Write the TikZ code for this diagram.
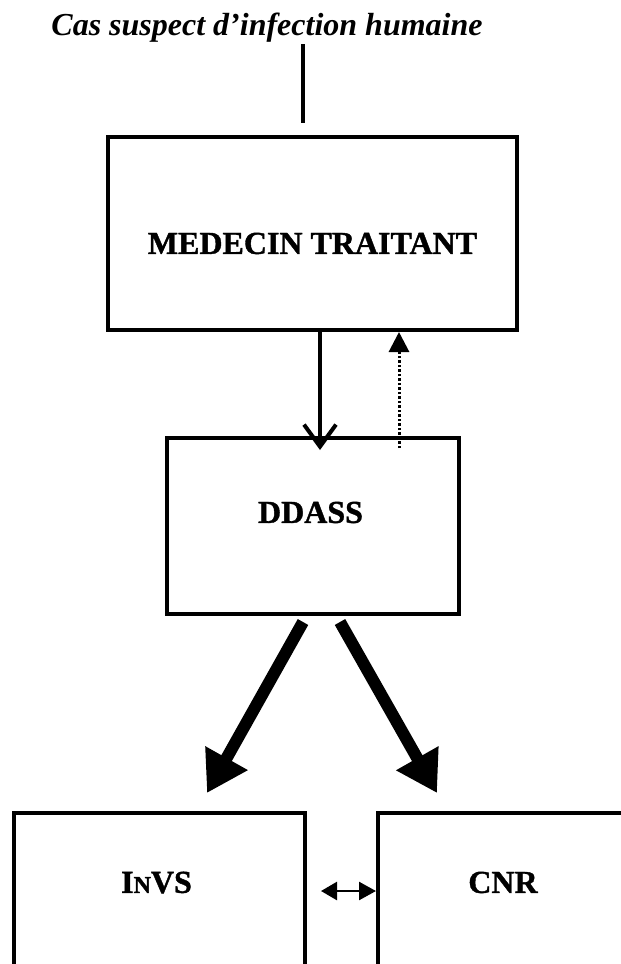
\documentclass[tikz,border=0pt]{standalone}
\usepackage{fontspec}
\setmainfont{Liberation Serif}
\newfontfamily\boxfont{Liberation Serif Bold}[FakeBold=1.2]
\usetikzlibrary{arrows.meta}
\begin{document}
\begin{tikzpicture}[x=1pt,y=-1pt,
  box/.style={draw, line width=4pt, inner sep=0pt},
  lbl/.style={font=\boxfont\fontsize{32}{32}\selectfont, inner sep=0pt},
  thick arrow/.style={line width=12pt, -{Triangle[length=40pt,width=46pt]}}]
\useasboundingbox (0,0) rectangle (621,964);
\clip (0,0) rectangle (621,964);
% title
\node[font=\fontsize{32}{32}\selectfont\bfseries\itshape, anchor=base, inner sep=0pt] (title) at (267,35) {Cas suspect d’infection humaine};
\coordinate (t0) at (303,44);
\coordinate (t1) at (303,123);
\draw[line width=4pt] (t0) -- (t1);
% boxes
\node[box, minimum width=409pt, minimum height=193pt] (med) at (312.5,233.5) {};
\node[lbl] (medtxt) at (312.5,243.5) {MEDECIN TRAITANT};
\node[box, minimum width=292pt, minimum height=176pt] (dd) at (313,526) {};
\node[lbl] (ddtxt) at (310.5,512.5) {DDASS};
\node[box, minimum width=291pt, minimum height=190pt] (invs) at (159.5,908) {};
\node[lbl] (invstxt) at (156.5,882.5) {I{\fontsize{24}{24}\selectfont N}VS};
\node[box, minimum width=291pt, minimum height=190pt] (cnr) at (523.5,908) {};
\node[lbl] (cnrtxt) at (503,882.5) {CNR};
% med -> ddass
\coordinate (a0) at ([xshift=7.5pt]med.south);
\coordinate (a1) at (320,450);
\draw[line width=4pt, -{Straight Barb[length=22pt,width=32pt]}] (a0) -- (a1);
% ddass -> med (dotted)
\coordinate (b0) at (399,448);
\coordinate (b1) at ([xshift=86.5pt]med.south);
\draw[line width=3pt, dash pattern=on 2.5pt off 2pt, -{Triangle[length=20pt,width=20pt]}] (b0) -- (b1);
% ddass -> invs, cnr
\coordinate (c0) at (303,622);
\coordinate (c1) at (207,793);
\coordinate (d0) at (340,622);
\coordinate (d1) at (437,793);
\draw[thick arrow] (c0) -- (c1);
\draw[thick arrow] (d0) -- (d1);
% invs <-> cnr
\coordinate (e0) at (321,891);
\coordinate (e1) at (cnr.west |- e0);
\draw[line width=2.5pt, {Triangle[length=16pt,width=18pt]}-{Triangle[length=17pt,width=18pt]}] (e0) -- (e1);
\end{tikzpicture}
\end{document}
